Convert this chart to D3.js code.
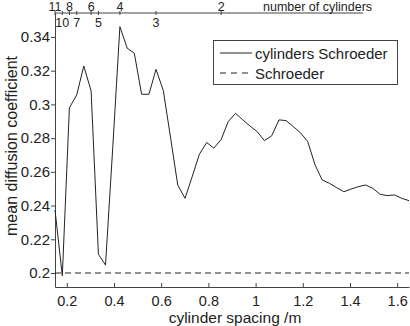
<!DOCTYPE html>
<html>
<head>
<meta charset="utf-8">
<script src="https://cdn.jsdelivr.net/npm/d3@7/dist/d3.min.js"></script>
<style>
  body { margin: 0; background: #fff; }
  svg { display: block; font-family: "Liberation Sans", Arial, Helvetica, sans-serif; }
</style>
</head>
<body>
<svg id="chart" width="410" height="326"></svg>
<script>

////////////////////////// DATA //////////////////////////

// cylinder spacing (m) of each measured configuration
const spacing = [0.150, 0.181, 0.211, 0.242, 0.272, 0.303, 0.334, 0.364, 0.395, 0.425,
                 0.456, 0.486, 0.517, 0.548, 0.578, 0.609, 0.640, 0.670, 0.701, 0.731,
                 0.762, 0.793, 0.823, 0.854, 0.884, 0.915, 0.946, 0.976, 1.007, 1.037,
                 1.068, 1.099, 1.129, 1.160, 1.190, 1.221, 1.252, 1.282, 1.313, 1.344,
                 1.374, 1.405, 1.435, 1.466, 1.497, 1.527, 1.558, 1.589, 1.619, 1.650]

// mean diffusion coefficient, cylinders + Schroeder diffuser
const cylSchroeder = [0.2374, 0.1984, 0.2980, 0.3056, 0.3228, 0.3080, 0.2111, 0.2047, 0.2750, 0.3461,
                      0.3333, 0.3304, 0.3060, 0.3060, 0.3208, 0.3082, 0.2800, 0.2522, 0.2443, 0.2570,
                      0.2705, 0.2774, 0.2740, 0.2792, 0.2898, 0.2947, 0.2908, 0.2872, 0.2838, 0.2785,
                      0.2813, 0.2908, 0.2904, 0.2868, 0.2832, 0.2779, 0.2641, 0.2552, 0.2532, 0.2506,
                      0.2482, 0.2498, 0.2512, 0.2522, 0.2502, 0.2467, 0.2459, 0.2463, 0.2443, 0.2429]

// Schroeder diffuser alone (constant)
const schroederValue = 0.2

// axis ticks
const xTicks = [0.2, 0.4, 0.6, 0.8, 1, 1.2, 1.4, 1.6]
const yTicks = [0.2, 0.22, 0.24, 0.26, 0.28, 0.3, 0.32, 0.34]

// top axis: number of cylinders at a given spacing
const cylTickSpacing = [0.150, 0.181, 0.211, 0.242, 0.303, 0.334, 0.425, 0.578, 0.854]
const cylTickLabels  = ['11', '10', '8', '7', '6', '5', '4', '3', '2']

const legendLabels = ['cylinders Schroeder', 'Schroeder']


////////////////////////// SETUP //////////////////////////

const svg = d3.select('#chart')
const ink = '#222'
const axisInk = '#444'

const plotLeft = 55, plotRight = 409, plotTop = 13, plotBottom = 287

const xScale = d3.scaleLinear().domain([0.15, 1.65]).range([plotLeft, plotRight])
const yScale = d3.scaleLinear().domain([0.1917, 0.3542]).range([plotBottom, plotTop])


////////////////////////// AXES //////////////////////////

// x axis (ticks point inward)
const xAxisG = svg.append('g')
  .attr('transform', `translate(0,${plotBottom})`)
  .call(d3.axisBottom(xScale)
    .tickValues(xTicks)
    .tickFormat(d3.format('~g'))
    .tickSizeInner(-4)
    .tickSizeOuter(0)
    .tickPadding(8.5))

// y axis
const yAxisG = svg.append('g')
  .attr('transform', `translate(${plotLeft},0)`)
  .call(d3.axisLeft(yScale)
    .tickValues(yTicks)
    .tickFormat(d3.format('~g'))
    .tickSizeInner(4)
    .tickSizeOuter(0)
    .tickPadding(1))

;[xAxisG, yAxisG].forEach(g => {
  g.attr('font-family', null).attr('font-size', null)
  g.select('.domain').attr('stroke', axisInk)
  g.selectAll('.tick line').attr('stroke', axisInk)
  g.selectAll('.tick text').attr('fill', ink).style('font-size', '15px')
})
xAxisG.selectAll('.tick text').style('font-size', '14.5px')

// top axis: number of cylinders
const topG = svg.append('g')
topG.append('line')
  .attr('x1', plotLeft).attr('x2', 363)
  .attr('y1', plotTop).attr('y2', plotTop)
  .attr('stroke', axisInk)

topG.selectAll('.cyl-tick')
  .data(cylTickSpacing)
  .enter()
  .append('line')
  .attr('x1', d => xScale(d)).attr('x2', d => xScale(d))
  .attr('y1', plotTop - 2).attr('y2', plotTop + 2)
  .attr('stroke', axisInk)

// labels alternate above / below the line so they don't collide
topG.selectAll('.cyl-label')
  .data(cylTickSpacing)
  .enter()
  .append('text')
  .attr('x', d => xScale(d))
  .attr('y', (d, i) => ([1, 3, 5, 7].includes(i) ? 26.5 : 11))
  .attr('text-anchor', 'middle')
  .style('font-size', '12.5px')
  .attr('fill', ink)
  .text((d, i) => cylTickLabels[i])

topG.append('text')
  .attr('x', 263).attr('y', 11)
  .style('font-size', '12.5px')
  .attr('fill', ink)
  .text('number of cylinders')

// axis titles
svg.append('text')
  .attr('x', 235).attr('y', 322.5)
  .attr('text-anchor', 'middle')
  .style('font-size', '15.5px')
  .attr('fill', ink)
  .text('cylinder spacing /m')

svg.append('text')
  .attr('transform', 'translate(17,146) rotate(-90)')
  .attr('text-anchor', 'middle')
  .style('font-size', '16px')
  .attr('fill', ink)
  .text('mean diffusion coefficient')


////////////////////////// LINES //////////////////////////

const line = d3.line()
  .x((d, i) => xScale(spacing[i]))
  .y(d => yScale(d))

svg.append('path')
  .datum(cylSchroeder)
  .attr('d', line)
  .attr('fill', 'none')
  .attr('stroke', ink)
  .attr('stroke-width', 1)

svg.append('line')
  .attr('x1', xScale(0.15)).attr('x2', xScale(1.65))
  .attr('y1', yScale(schroederValue)).attr('y2', yScale(schroederValue))
  .attr('stroke', ink)
  .attr('stroke-dasharray', '6,4')


////////////////////////// LEGEND //////////////////////////

const legend = svg.append('g')
legend.append('rect')
  .attr('x', 213.5).attr('y', 40.5)
  .attr('width', 184).attr('height', 44)
  .attr('fill', '#fff')
  .attr('stroke', axisInk)

legendLabels.forEach((label, i) => {
  const ly = 53 + i * 20
  legend.append('line')
    .attr('x1', 220).attr('x2', 252)
    .attr('y1', ly).attr('y2', ly)
    .attr('stroke', ink)
    .attr('stroke-dasharray', i === 1 ? '6,5' : null)
  legend.append('text')
    .attr('x', 255).attr('y', ly + 5.5)
    .style('font-size', '15px')
    .attr('fill', ink)
    .text(label)
})

</script>
</body>
</html>
